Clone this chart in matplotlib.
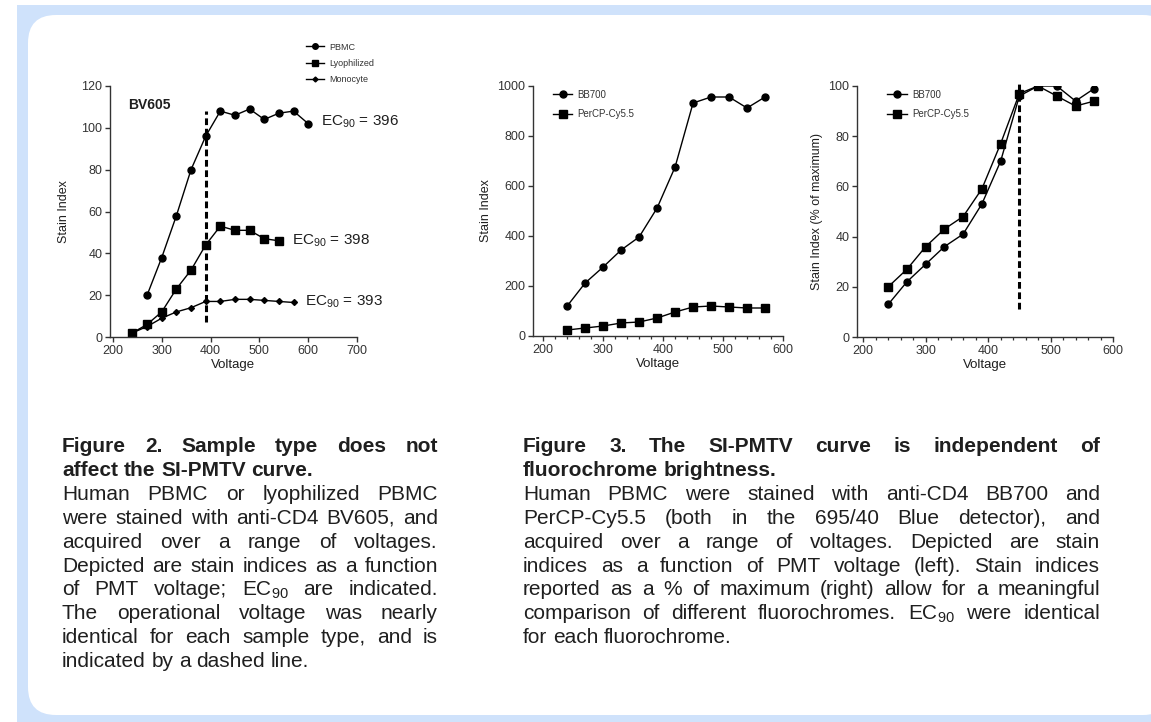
import numpy as np
import matplotlib
matplotlib.use("Agg")
import matplotlib.pyplot as plt
from matplotlib.patches import Rectangle, FancyBboxPatch
from matplotlib.lines import Line2D
from matplotlib.ticker import MultipleLocator

plt.rcParams['font.family'] = ['Liberation Sans', 'DejaVu Sans']
plt.rcParams['mathtext.fontset'] = 'custom'
plt.rcParams['mathtext.rm'] = 'Liberation Sans'

# Figure 2 data: BV605 stain index vs PMT voltage
pbmc_v = [270, 300, 330, 360, 390, 420, 450, 480, 510, 540, 570, 600]
pbmc_si = [20, 38, 58, 80, 96, 108, 106, 109, 104, 107, 108, 102]
lyo_v = [240, 270, 300, 330, 360, 390, 420, 450, 480, 510, 540]
lyo_si = [2, 6, 12, 23, 32, 44, 53, 51, 51, 47, 46]
mono_v = [240, 270, 300, 330, 360, 390, 420, 450, 480, 510, 540, 570]
mono_si = [2, 5, 9, 12, 14, 17, 17, 18, 18, 17.5, 17, 16.5]
ec90_labels = ["396", "398", "393"]
ec90_pos = [(626, 103), (567, 46), (594, 17)]
op_voltage_fig2 = 390

# Figure 3 data: BB700 vs PerCP-Cy5.5
fl_v = [240, 270, 300, 330, 360, 390, 420, 450, 480, 510, 540, 570]
bb700_si = [120, 212, 276, 344, 396, 512, 676, 932, 956, 956, 912, 956]
percp_si = [24, 32, 40, 52, 56, 72, 96, 116, 120, 116, 112, 112]
bb700_pct = [13, 22, 29, 36, 41, 53, 70, 96, 100, 100, 94, 99]
percp_pct = [20, 27, 36, 43, 48, 59, 77, 97, 100, 96, 92, 94]
op_voltage_fig3 = 450

W, H = 1151, 722
fig = plt.figure(figsize=(W / 100, H / 100), dpi=100, facecolor='white')

# background panel in pixel coordinates
bg = fig.add_axes([0, 0, 1, 1], zorder=-10)
bg.set_xlim(0, W)
bg.set_ylim(H, 0)
bg.axis('off')
bg.add_patch(Rectangle((17, 5), W - 17, H - 5, color='#cfe2fb', lw=0))
bg.add_patch(FancyBboxPatch((28, 15), W + 20 - 28, 700, boxstyle='round,pad=0,rounding_size=28',
                            fc='white', ec='none'))

TXT = '#1f1f1f'
TICK = '#333333'


def px_axes(left, right, top, bottom):
    return fig.add_axes([left / W, 1 - bottom / H, (right - left) / W, (bottom - top) / H])


def style(ax):
    for s in ['top', 'right']:
        ax.spines[s].set_visible(False)
    for s in ['left', 'bottom']:
        ax.spines[s].set_linewidth(1.0)
        ax.spines[s].set_color('#333333')
    ax.tick_params(which='major', length=3.5, width=1.0, labelsize=9, colors='#333333',
                   labelcolor=TICK, pad=2)
    ax.tick_params(which='minor', length=2.5, width=0.9, colors='#333333')
    ax.set_facecolor('none')


line_kw = dict(color='black', lw=1.0)
leg_kw = dict(frameon=False, fontsize=7, handlelength=2.0, handletextpad=0.5,
              labelspacing=1.0, borderpad=0, labelcolor=TICK)

# ---- Figure 2 ----
ax1 = px_axes(110, 357, 86, 337)
style(ax1)
ax1.plot(pbmc_v, pbmc_si, marker='o', ms=5, **line_kw)
ax1.plot(lyo_v, lyo_si, marker='s', ms=5.5, **line_kw)
ax1.plot(mono_v, mono_si, marker='D', ms=3, **line_kw)
ax1.plot([op_voltage_fig2, op_voltage_fig2], [7, 108], color='black', lw=2.2, ls=(0, (2.2, 1.2)))
ax1.set_xlim(194, 700)
ax1.set_ylim(0, 120)
ax1.set_xticks([200, 300, 400, 500, 600, 700])
ax1.set_yticks(np.arange(0, 121, 20))
ax1.set_xlabel('Voltage', fontsize=9.5, color=TXT, labelpad=2)
ax1.set_ylabel('Stain Index', fontsize=9, color=TXT, labelpad=8)
ax1.text(0.073, 0.924, 'BV605', transform=ax1.transAxes, fontsize=10, fontweight='bold',
         color=TXT, va='center')
for lab, (x, y) in zip(ec90_labels, ec90_pos):
    ax1.text(x, y, r'EC$_{90}$ = ' + lab, fontsize=11, color=TXT, va='center', clip_on=False)

leg_h = [Line2D([], [], marker='o', ms=4, **line_kw),
         Line2D([], [], marker='s', ms=4, **line_kw),
         Line2D([], [], marker='D', ms=2.5, **line_kw)]
ax1.legend(leg_h, ['PBMC', 'Lyophilized', 'Monocyte'], loc='lower left',
           bbox_to_anchor=(0.777, 0.99), **dict(leg_kw, fontsize=6.5, labelspacing=0.8))

# ---- Figure 3, absolute ----
ax2 = px_axes(533, 783, 86, 336)
style(ax2)
ax2.plot(fl_v, bb700_si, marker='o', ms=5, label='BB700', **line_kw)
ax2.plot(fl_v, percp_si, marker='s', ms=5.5, label='PerCP-Cy5.5', **line_kw)
ax2.set_xlim(183, 600)
ax2.set_ylim(0, 1000)
ax2.set_xticks([200, 300, 400, 500, 600])
ax2.xaxis.set_minor_locator(MultipleLocator(20))
ax2.set_yticks(np.arange(0, 1001, 200))
ax2.set_xlabel('Voltage', fontsize=9.5, color=TXT, labelpad=2)
ax2.set_ylabel('Stain Index', fontsize=9, color=TXT, labelpad=4)
ax2.legend(loc='upper left', bbox_to_anchor=(0.06, 1.005), **leg_kw)

# ---- Figure 3, % of maximum ----
ax3 = px_axes(857, 1113, 86, 337)
style(ax3)
ax3.plot(fl_v, bb700_pct, marker='o', ms=5, label='BB700', **line_kw)
ax3.plot(fl_v, percp_pct, marker='s', ms=5.5, label='PerCP-Cy5.5', **line_kw)
ax3.plot([op_voltage_fig3, op_voltage_fig3], [11, 102], color='black', lw=2.2, ls=(0, (2.2, 1.2)),
         clip_on=False)
ax3.set_xlim(190, 600)
ax3.set_ylim(0, 100)
ax3.set_xticks([200, 300, 400, 500, 600])
ax3.xaxis.set_minor_locator(MultipleLocator(20))
ax3.set_yticks(np.arange(0, 101, 20))
ax3.set_xlabel('Voltage', fontsize=9.5, color=TXT, labelpad=2)
ax3.set_ylabel('Stain Index (% of maximum)', fontsize=9, color=TXT, labelpad=4)
ax3.legend(loc='upper left', bbox_to_anchor=(0.1, 1.005), **leg_kw)

# ---- captions (justified) ----
renderer = fig.canvas.get_renderer()
CAP_FS = 15


def text_width(s, **kw):
    t = bg.text(0, 0, s, fontsize=CAP_FS, **kw)
    w = t.get_window_extent(renderer).width
    t.remove()
    return w


def caption(lines, x0, x1, y0, dy, bold_lines):
    space = text_width('a a') - text_width('aa')
    for i, (line, last) in enumerate(lines):
        kw = dict(fontweight='bold') if i < bold_lines else {}
        words = line.split(' ')
        widths = [text_width(w, **kw) for w in words]
        if last or len(words) == 1:
            gap = space
        else:
            gap = (x1 - x0 - sum(widths)) / (len(words) - 1)
        x = x0
        y = y0 + i * dy
        for w, wd in zip(words, widths):
            bg.text(x, y, w, fontsize=CAP_FS, color=TXT, va='baseline', **kw)
            x += wd + gap


EC = r'EC$_{90}$'
fig2_lines = [
    ("Figure 2. Sample type does not", False),
    ("affect the SI-PMTV curve.", True),
    ("Human PBMC or lyophilized PBMC", False),
    ("were stained with anti-CD4 BV605, and", False),
    ("acquired over a range of voltages.", False),
    ("Depicted are stain indices as a function", False),
    ("of PMT voltage; " + EC + " are indicated.", False),
    ("The operational voltage was nearly", False),
    ("identical for each sample type, and is", False),
    ("indicated by a dashed line.", True),
]
fig3_lines = [
    ("Figure 3. The SI-PMTV curve is independent of", False),
    ("fluorochrome brightness.", True),
    ("Human PBMC were stained with anti-CD4 BB700 and", False),
    ("PerCP-Cy5.5 (both in the 695/40 Blue detector), and", False),
    ("acquired over a range of voltages. Depicted are stain", False),
    ("indices as a function of PMT voltage (left). Stain indices", False),
    ("reported as a % of maximum (right) allow for a meaningful", False),
    ("comparison of different fluorochromes. " + EC + " were identical", False),
    ("for each fluorochrome.", True),
]
caption(fig2_lines, 62, 438, 452, 23.9, 2)
caption(fig3_lines, 523, 1100, 452, 23.9, 2)

fig.savefig('out.png', dpi=100, facecolor='white')
